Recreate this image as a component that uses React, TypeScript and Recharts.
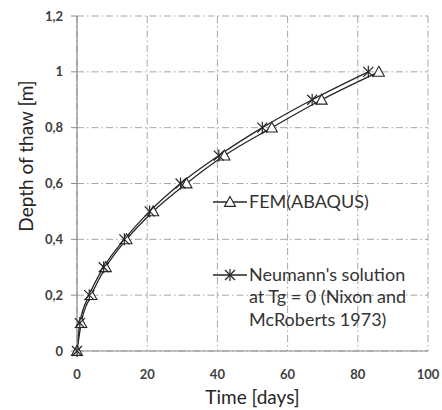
import React from "react";
import {
  LineChart,
  Line,
  XAxis,
  YAxis,
  CartesianGrid,
} from "recharts";

document.body.style.margin = "0";

const depth = [0, 0.1, 0.2, 0.3, 0.4, 0.5, 0.6, 0.7, 0.8, 0.9, 1.0];
const femDays = [0, 1.2, 4.1, 8.2, 14.1, 21.7, 31.2, 42, 55.5, 69.7, 86];
const neumannDays = [0, 0.8, 3.5, 7.6, 13.5, 20.7, 29.5, 40.4, 52.8, 67, 83];
const xTicks = [0, 20, 40, 60, 80, 100];
const yTicks = [0, 0.2, 0.4, 0.6, 0.8, 1, 1.2];

const fem = depth.map((d, i) => ({ t: femDays[i], d }));
const neumann = depth.map((d, i) => ({ t: neumannDays[i], d }));

const font = "Lato, 'Open Sans', sans-serif";
const ink = "#262626";

function Triangle({ cx, cy }: any) {
  if (cx == null || cy == null) return null;
  const s = 5.5;
  return (
    <path
      d={`M${cx},${cy - s} L${cx + s},${cy + s * 0.8} L${cx - s},${cy + s * 0.8} Z`}
      fill="#fff"
      stroke={ink}
      strokeWidth={1.1}
    />
  );
}

function Star({ cx, cy }: any) {
  if (cx == null || cy == null) return null;
  const s = 5;
  return (
    <g stroke={ink} strokeWidth={1.2}>
      <line x1={cx - s} y1={cy - s} x2={cx + s} y2={cy + s} />
      <line x1={cx - s} y1={cy + s} x2={cx + s} y2={cy - s} />
      <line x1={cx} y1={cy - s - 1} x2={cx} y2={cy + s + 1} />
    </g>
  );
}

function ChartLegend() {
  const text = { fontFamily: font, fontSize: 18, fill: "#333" };
  return (
    <svg
      width={220}
      height={145}
      style={{ position: "absolute", left: 213, top: 190 }}
    >
      <line x1={0} y1={12} x2={34} y2={12} stroke={ink} strokeWidth={1.3} />
      <Triangle cx={17} cy={12} />
      <text x={36} y={18} {...text}>FEM(ABAQUS)</text>
      <line x1={0} y1={85} x2={34} y2={85} stroke={ink} strokeWidth={1.3} />
      <Star cx={17} cy={85} />
      <text x={36} y={91} {...text}>Neumann's solution</text>
      <text x={36} y={113} {...text}>at Tg = 0 (Nixon and</text>
      <text x={36} y={136} {...text}>McRoberts 1973)</text>
    </svg>
  );
}

const fmt = (v: number) => String(v).replace(".", ",");

const yTitle = () => (
  <text
    x={25}
    y={156}
    transform="rotate(-90 25 156)"
    textAnchor="middle"
    dominantBaseline="central"
    fill={ink}
    fontFamily={font}
    fontSize={19}
  >
    Depth of thaw [m]
  </text>
);

export default function App() {
  return (
    <div style={{ position: "relative", width: 442, height: 410 }}>
      <LineChart
        width={442}
        height={410}
        margin={{ top: 16, right: 14, bottom: 0, left: 0 }}
      >
        <CartesianGrid
          stroke="#a6a6a6"
          strokeDasharray="7 3 1.5 3"
          strokeWidth={1}
        />
        <XAxis
          type="number"
          dataKey="t"
          domain={[0, 100]}
          ticks={xTicks}
          height={59}
          tickLine={false}
          axisLine={{ stroke: "#8c8c8c", strokeWidth: 1.2 }}
          tick={{ fill: "#404040", fontFamily: font, fontSize: 13, fontWeight: 700 }}
          tickMargin={13}
          label={{
            value: "Time [days]",
            position: "insideBottom",
            offset: 0,
            dy: -6,
            fill: ink,
            fontFamily: font,
            fontSize: 19,
          }}
        />
        <YAxis
          type="number"
          dataKey="d"
          domain={[0, 1.2]}
          ticks={yTicks}
          width={77}
          tickFormatter={fmt}
          tickSize={6}
          tickMargin={8}
          tickLine={{ stroke: "#8c8c8c" }}
          axisLine={{ stroke: "#8c8c8c", strokeWidth: 1.2 }}
          tick={{ fill: "#404040", fontFamily: font, fontSize: 13, fontWeight: 700 }}
          label={yTitle}
        />
        <Line
          data={fem}
          dataKey="d"
          name="FEM(ABAQUS)"
          type="monotone"
          stroke={ink}
          strokeWidth={1.3}
          dot={(p: any) => <Triangle key={`f${p.index}`} cx={p.cx} cy={p.cy} />}
          isAnimationActive={false}
        />
        <Line
          data={neumann}
          dataKey="d"
          name="Neumann's solution"
          type="monotone"
          stroke={ink}
          strokeWidth={1.3}
          dot={(p: any) => <Star key={`n${p.index}`} cx={p.cx} cy={p.cy} />}
          isAnimationActive={false}
        />
      </LineChart>
      <ChartLegend />
    </div>
  );
}
